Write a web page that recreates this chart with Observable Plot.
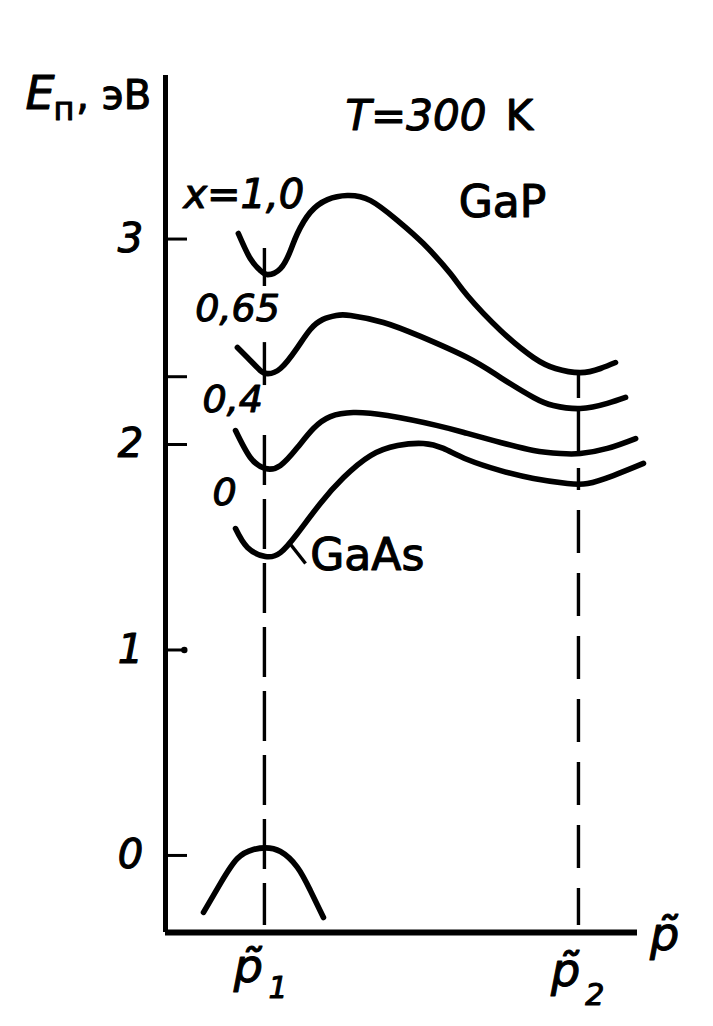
<!DOCTYPE html>
<html><head><meta charset="utf-8">
<script src="https://cdn.jsdelivr.net/npm/d3@7"></script>
<script src="https://cdn.jsdelivr.net/npm/@observablehq/plot@0.6"></script>
<style>html,body{margin:0;padding:0;background:#fff;overflow:hidden}</style>
</head><body><div id="chart"></div>
<script>
// quasi-momentum p~ (p1 = 1, p2 = 2) and band energy E, eV
const curveX10 = [[0.917,3.027],[0.955,2.905],[0.987,2.847],[1.010,2.827],[1.051,2.856],[1.083,2.944],[1.105,3.027],[1.146,3.130],[1.201,3.192],[1.264,3.212],[1.338,3.187],[1.424,3.090],[1.506,2.978],[1.592,2.832],[1.646,2.725],[1.752,2.555],[1.857,2.423],[1.927,2.370],[2.006,2.350],[2.070,2.370],[2.118,2.399]];
const curveX065 = [[0.914,2.472],[0.955,2.409],[0.987,2.360],[1.010,2.345],[1.051,2.370],[1.105,2.472],[1.146,2.560],[1.185,2.608],[1.229,2.628],[1.274,2.628],[1.379,2.594],[1.497,2.526],[1.646,2.423],[1.752,2.326],[1.857,2.229],[1.920,2.190],[2.006,2.175],[2.092,2.200],[2.150,2.229]];
const curveX04 = [[0.908,2.068],[0.955,1.937],[1.003,1.883],[1.051,1.898],[1.105,1.985],[1.156,2.078],[1.210,2.136],[1.283,2.156],[1.392,2.141],[1.551,2.092],[1.646,2.054],[1.752,2.010],[1.857,1.971],[1.943,1.956],[2.006,1.956],[2.092,1.981],[2.182,2.029]];
const curveX0 = [[0.908,1.591],[0.946,1.499],[1.003,1.455],[1.051,1.474],[1.105,1.567],[1.178,1.713],[1.252,1.839],[1.338,1.946],[1.424,1.995],[1.506,2.005],[1.570,1.981],[1.646,1.927],[1.752,1.873],[1.857,1.835],[1.965,1.810],[2.029,1.810],[2.111,1.849],[2.207,1.908]];
const valenceBand = [[0.806,-0.277],[0.860,-0.136],[0.914,-0.015],[0.965,0.029],[1.003,0.037],[1.051,0.019],[1.105,-0.058],[1.146,-0.170],[1.188,-0.302]];

const yTicks = [0, 1, 2, 3];
const yTickLabels = ["0", "1", "2", "3"];
const yMinorTicks = [2.33];
const xExtent = [0.685, 2.188];
const yExtent = [-0.375, 3.796];

// vertical guides at p1 and p2
const guides = [
  {k: 1, top: 2.954, bottom: 2.769, dash: "none", off: 0},
  {k: 1, top: 2.496, bottom: 2.287, dash: "none", off: 0},
  {k: 1, top: 2.044, bottom: -0.341, dash: "50,14", off: 0},
  {k: 2, top: 2.350, bottom: 2.224, dash: "none", off: 0},
  {k: 2, top: 2.175, bottom: 1.956, dash: "none", off: 0},
  {k: 2, top: 1.883, bottom: -0.341, dash: "43,20", off: 21}
];

const labels = [
  {t: "E", k: 0.239, E: 3.635, size: 46, style: "italic", anchor: "start", line: "bottom"},
  {t: "п", k: 0.328, E: 3.577, size: 32, style: "normal", anchor: "start", line: "bottom"},
  {t: ", эВ", k: 0.401, E: 3.635, size: 40, style: "normal", anchor: "start", line: "bottom"},
  {t: "T=300", k: 1.258, E: 3.596, size: 42, style: "italic", anchor: "start", line: "middle"},
  {t: "K", k: 1.768, E: 3.596, size: 42, style: "normal", anchor: "start", line: "middle"},
  {t: "GaP", k: 1.758, E: 3.178, size: 44, style: "normal", anchor: "middle", line: "middle"},
  {t: "x=1,0", k: 0.742, E: 3.212, size: 40, style: "italic", anchor: "start", line: "middle"},
  {t: "0,65", k: 0.780, E: 2.662, size: 38, style: "italic", anchor: "start", line: "middle"},
  {t: "0,4", k: 0.803, E: 2.219, size: 38, style: "italic", anchor: "start", line: "middle"},
  {t: "0", k: 0.873, E: 1.766, size: 38, style: "italic", anchor: "middle", line: "middle"},
  {t: "GaAs", k: 1.146, E: 1.460, size: 44, style: "normal", anchor: "start", line: "middle"},
  {t: "p\u0303", k: 0.949, E: -0.618, size: 46, style: "italic", anchor: "middle", line: "bottom"},
  {t: "1", k: 1.013, E: -0.696, size: 30, style: "italic", anchor: "start", line: "bottom"},
  {t: "p\u0303", k: 1.959, E: -0.633, size: 46, style: "italic", anchor: "middle", line: "bottom"},
  {t: "2", k: 2.022, E: -0.730, size: 30, style: "italic", anchor: "start", line: "bottom"},
  {t: "p\u0303", k: 2.274, E: -0.462, size: 46, style: "italic", anchor: "middle", line: "bottom"}
];
const gaasLeader = [{k1: 1.076, E1: 1.528, k2: 1.131, E2: 1.421}];

const series = [
  {name: "x=1,0", pts: curveX10},
  {name: "x=0,65", pts: curveX065},
  {name: "x=0,4", pts: curveX04},
  {name: "x=0", pts: curveX0},
  {name: "valence", pts: valenceBand}
];
const rows = series.flatMap(s => s.pts.map(([k, E]) => ({series: s.name, k, E})));

const font = "DejaVu Sans, sans-serif";
const textStyle = {fontFamily: font, fill: "black", stroke: "black", strokeWidth: 1.1};
const marks = [
  Plot.ruleX([xExtent[0]], {y1: yExtent[0], y2: yExtent[1], strokeWidth: 5, stroke: "black"}),
  Plot.ruleY([yExtent[0]], {x1: xExtent[0], x2: xExtent[1], strokeWidth: 6, stroke: "black"}),
  Plot.ruleY(yTicks.concat(yMinorTicks), {y: d => d, x1: xExtent[0], x2: xExtent[0] + 0.07, strokeWidth: 3, stroke: "black"}),
  Plot.dot([1], {x: xExtent[0] + 0.06, y: d => d, r: 3.2, fill: "black"}),
  Plot.text(yTicks, {x: xExtent[0], y: d => d, text: (d, i) => yTickLabels[i], dx: -35, textAnchor: "middle", lineAnchor: "middle", fontSize: 40, fontStyle: "italic", ...textStyle})
];
for (const g of guides) {
  marks.push(Plot.ruleX([g], {x: "k", y1: "top", y2: "bottom", strokeWidth: 3.4, stroke: "black", strokeDasharray: g.dash, strokeDashoffset: g.off}));
}
marks.push(Plot.line(rows, {x: "k", y: "E", z: "series", curve: "natural", stroke: "black", strokeWidth: 5.6, strokeLinecap: "round", strokeLinejoin: "round"}));
marks.push(Plot.link(gaasLeader, {x1: "k1", y1: "E1", x2: "k2", y2: "E2", stroke: "black", strokeWidth: 3.4}));
for (const l of labels) {
  marks.push(Plot.text([l], {x: "k", y: "E", text: "t", fontSize: l.size, fontStyle: l.style, textAnchor: l.anchor, lineAnchor: l.line, ...textStyle}));
}

const chart = Plot.plot({
  width: 713,
  height: 1026,
  style: {background: "white", overflow: "visible"},
  x: {domain: xExtent, range: [165, 637], axis: null},
  y: {domain: yExtent, range: [932, 75], axis: null},
  marks
});
document.getElementById("chart").appendChild(chart);
</script>
</body></html>
